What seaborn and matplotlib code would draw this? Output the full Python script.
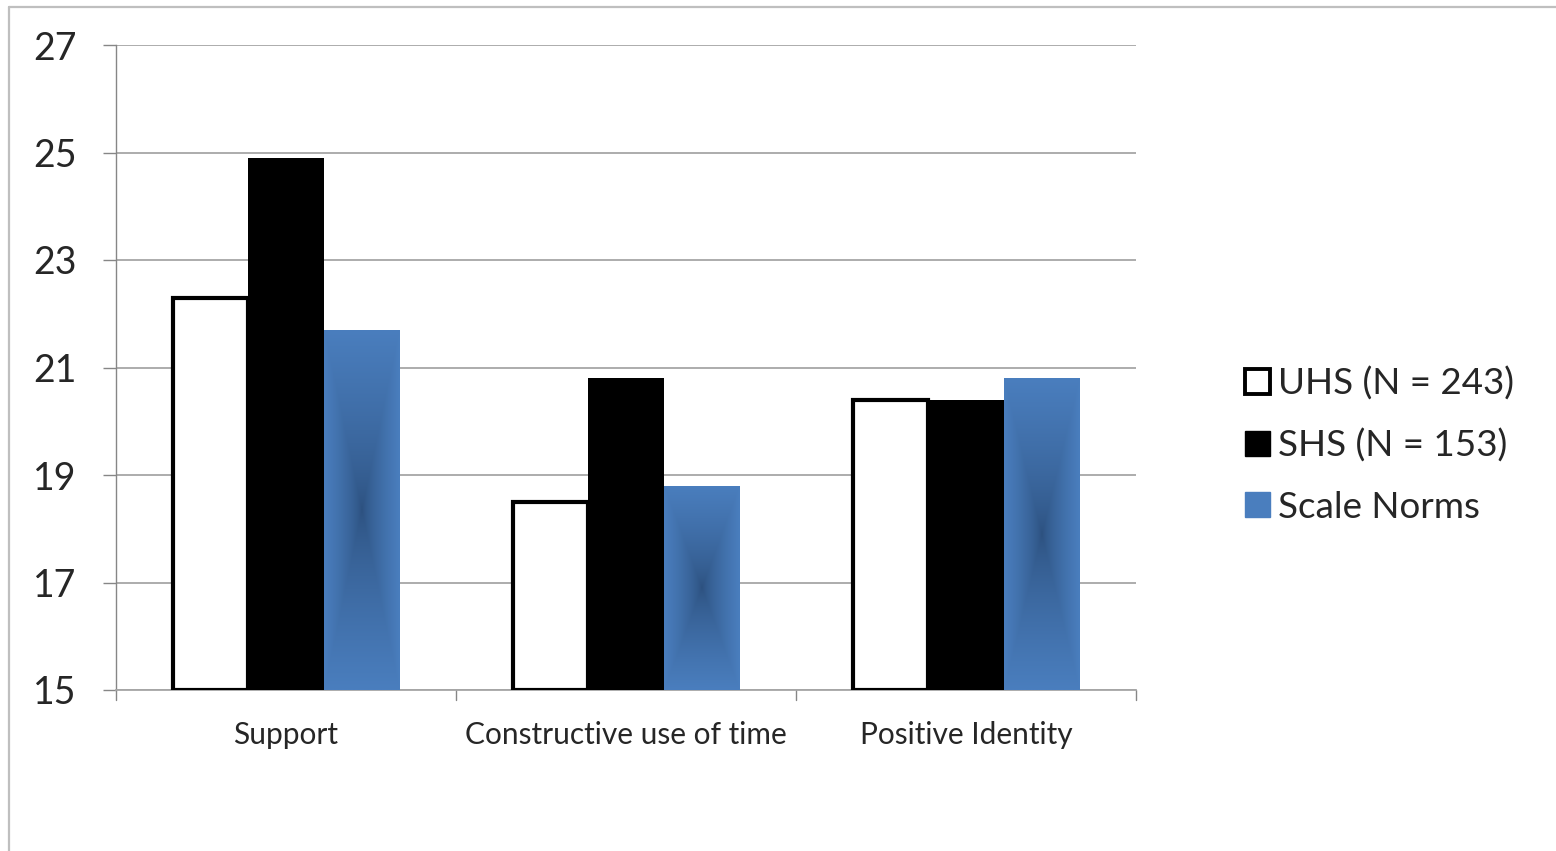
import numpy as np
import pandas as pd
import seaborn as sns
import matplotlib
matplotlib.use("Agg")
import matplotlib.pyplot as plt
from matplotlib.patches import Patch
from matplotlib.lines import Line2D

# data
categories = ["Support", "Constructive use of time", "Positive Identity"]
groups = ["UHS (N = 243)", "SHS (N = 153)", "Scale Norms"]
uhs = [22.3, 18.5, 20.4]
shs = [24.9, 20.8, 20.4]
norms = [21.7, 18.8, 20.8]
y_ticks = [15, 17, 19, 21, 23, 25, 27]

df = pd.DataFrame({
    "category": categories * 3,
    "group": [groups[0]] * 3 + [groups[1]] * 3 + [groups[2]] * 3,
    "value": uhs + shs + norms,
})

sns.set_theme(style="white")
plt.rcParams["font.family"] = ["Lato", "DejaVu Sans"]

blue_edge = np.array([74, 126, 190]) / 255
blue_mid = np.array([44, 80, 126]) / 255
grid_col = "#a6a6a6"
axis_col = "#868686"

fig = plt.figure(figsize=(15.56, 8.51), dpi=100)
ax = fig.add_axes([116 / 1556, 1 - 690 / 851, 1020 / 1556, 645 / 851])

sns.barplot(data=df, x="category", y="value", hue="group",
            palette=["white", "black", tuple(blue_edge)],
            width=0.667, legend=False, ax=ax, saturation=1, zorder=3)

base = y_ticks[0]
for i, cont in enumerate(ax.containers):
    for p in cont.patches:
        top = p.get_y() + p.get_height()
        p.set_y(base)
        p.set_height(top - base)
        if i == 0:
            p.set_edgecolor("black")
            p.set_linewidth(3)
            p.set_zorder(4)
        else:
            p.set_linewidth(0)
        if i == 2:
            # rectangular "from centre" gradient like the office chart
            u = np.abs(np.linspace(-1, 1, 101))
            v = np.abs(np.linspace(-1, 1, 301))
            t = np.maximum(u[None, :], v[:, None]) ** 0.7
            img = blue_mid[None, None, :] * (1 - t[..., None]) + blue_edge[None, None, :] * t[..., None]
            x0 = p.get_x()
            im = ax.imshow(img, extent=[x0, x0 + p.get_width(), base, top],
                           aspect="auto", zorder=3.5, interpolation="bilinear")
            im.set_clip_path(p)

ax.set_xlim(-0.5, 2.5)
ax.set_ylim(15, 27)
ax.set_yticks(y_ticks)
ax.set_yticklabels([str(t) for t in y_ticks], fontsize=27)
ax.yaxis.grid(True, color=grid_col, linewidth=1.3, zorder=0)
ax.set_axisbelow(True)
ax.set_xlabel("")
ax.set_ylabel("")

ax.tick_params(axis="y", length=9.5, width=1, color=axis_col, pad=19, left=True)
ax.tick_params(axis="x", length=0, pad=22, labelsize=21.5)
ax.set_xticks(range(len(categories)))
ax.set_xticklabels(categories)
# category boundary ticks on the x axis
for xb in [-0.5, 0.5, 1.5, 2.5]:
    ax.plot([xb, xb], [0, -0.016], transform=ax.get_xaxis_transform(),
            color=axis_col, linewidth=1, clip_on=False)

for s in ["top", "right"]:
    ax.spines[s].set_visible(False)
ax.spines["left"].set_color(axis_col)
ax.spines["bottom"].set_color(grid_col)
ax.spines["left"].set_linewidth(1)
ax.spines["bottom"].set_linewidth(1.3)

handles = [
    Patch(facecolor="white", edgecolor="black", linewidth=2.8),
    Patch(facecolor="black", edgecolor="black"),
    Patch(facecolor=tuple(blue_edge), edgecolor=tuple(blue_edge)),
]
fig.legend(handles, groups, loc="center left",
           bbox_to_anchor=(1212 / 1556, 1 - 445 / 851), frameon=False,
           fontsize=26.5, handlelength=0.68, handleheight=0.68,
           handletextpad=0.2, labelspacing=0.76)

# outer chart border (only top and left edges show)
fig.add_artist(Line2D([9 / 1556, 1], [1 - 7 / 851, 1 - 7 / 851],
                      transform=fig.transFigure, color="#bfbfbf", linewidth=1.6))
fig.add_artist(Line2D([9 / 1556, 9 / 1556], [0, 1 - 7 / 851],
                      transform=fig.transFigure, color="#bfbfbf", linewidth=1.6))

fig.savefig("out.png", dpi=100, facecolor="white")
